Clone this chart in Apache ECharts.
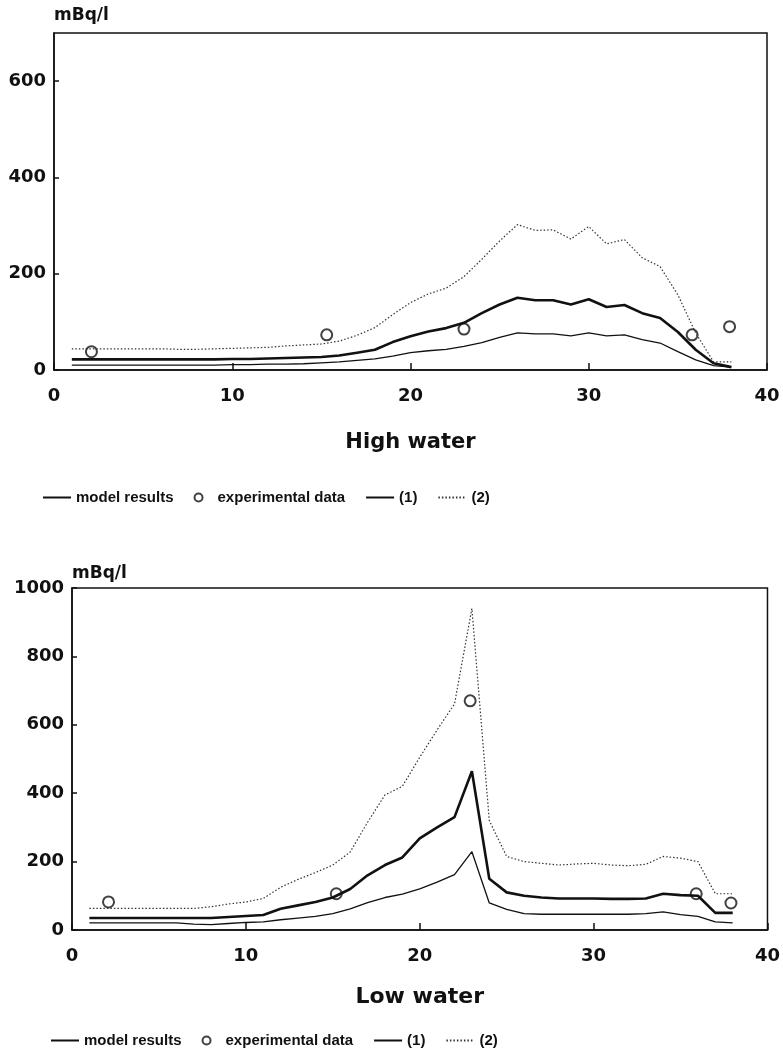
<!DOCTYPE html>
<html>
<head>
<meta charset="utf-8">
<script src="https://cdn.jsdelivr.net/npm/echarts@6/dist/echarts.min.js"></script>
<style>
html, body { margin: 0; background: #fff; }
#chart { width: 783px; height: 1059px; }
</style>
</head>
<body>
<div id="chart"></div>
<script>
var km = [1, 2, 3, 4, 5, 6, 7, 8, 9, 10, 11, 12, 13, 14, 15, 16, 17, 18, 19,
    20, 21, 22, 23, 24, 25, 26, 27, 28, 29, 30, 31, 32, 33, 34, 35, 36, 37, 38];

// High water
var hwModel = [22, 22, 22, 22, 22, 22, 22, 22, 22, 23, 23, 24, 25, 26, 27, 30, 36, 42, 58,
    70, 80, 87, 98, 118, 136, 150, 145, 145, 136, 147, 131, 135, 118, 108, 79, 42, 14, 6];
var hwLow = [10, 10, 10, 10, 10, 10, 10, 10, 10, 11, 11, 12, 12, 13, 15, 17, 20, 23, 29,
    36, 40, 43, 49, 57, 68, 77, 75, 75, 71, 77, 71, 73, 63, 56, 38, 21, 9, 6];
var hwHigh = [44, 44, 44, 44, 44, 44, 43, 43, 44, 45, 46, 47, 50, 52, 54, 60, 72, 88, 115,
    140, 158, 170, 194, 230, 268, 302, 290, 291, 272, 298, 262, 271, 233, 215, 156, 77, 17, 17];
var hwExpX = [2.1, 15.3, 23, 35.8, 37.9];
var hwExpY = [38, 73, 85, 73, 90];

// Low water
var lwModel = [35, 35, 35, 35, 35, 35, 35, 35, 38, 41, 44, 62, 72, 82, 95, 120, 160, 190, 212,
    268, 300, 330, 464, 150, 110, 100, 95, 92, 92, 92, 91, 91, 92, 106, 102, 100, 50, 50];
var lwLow = [21, 21, 21, 21, 21, 21, 17, 16, 19, 22, 24, 30, 35, 40, 48, 62, 80, 95, 105,
    120, 140, 162, 229, 79, 60, 48, 46, 46, 46, 46, 46, 46, 48, 53, 45, 40, 24, 21];
var lwHigh = [63, 63, 63, 63, 63, 63, 63, 68, 76, 82, 92, 125, 148, 168, 190, 228, 315, 395, 420,
    505, 585, 661, 940, 320, 215, 200, 195, 190, 193, 195, 190, 188, 192, 215, 210, 200, 106, 106];
var lwExpX = [2.1, 15.2, 22.9, 35.9, 37.9];
var lwExpY = [82, 106, 670, 106, 79];

var legendNames = ['model results', 'experimental data', '(1)', '(2)'];

function pairs(xs, ys) {
    return xs.map(function (x, i) { return [x, ys[i]]; });
}

var font = 'DejaVu Sans';
var legendFont = "'Liberation Sans', sans-serif";

function xAxisFor(idx, name, nameSize, gap) {
    return {
        type: 'value', gridIndex: idx, min: 0, max: 40, interval: 10,
        name: name, nameLocation: 'middle', nameGap: gap,
        nameTextStyle: { fontFamily: font, fontWeight: 'bold', fontSize: nameSize, color: '#111' },
        axisLine: { lineStyle: { color: '#111', width: 1.5 } },
        axisTick: { inside: true, length: 7, lineStyle: { color: '#111', width: 1.5 } },
        axisLabel: { margin: 17, fontFamily: font, fontWeight: 'bold', fontSize: 18, color: '#111' },
        splitLine: { show: false }
    };
}

function yAxisFor(idx, max, gap) {
    return {
        type: 'value', gridIndex: idx, min: 0, max: max, interval: 200,
        name: 'mBq/l', nameLocation: 'end', nameGap: gap,
        nameTextStyle: { fontFamily: font, fontWeight: 'bold', fontSize: 17, color: '#111', align: 'left' },
        axisLine: { lineStyle: { color: '#111', width: 1.5 } },
        axisTick: { inside: true, length: 5, lineStyle: { color: '#111', width: 1.5 } },
        axisLabel: {
            margin: 8, showMaxLabel: max === 1000,
            formatter: function (v) { return String(v); },
            fontFamily: font, fontWeight: 'bold', fontSize: 18, color: '#111'
        },
        splitLine: { show: false }
    };
}

function seriesFor(idx, model, low, high, expX, expY) {
    return [
        {
            name: 'model results', type: 'line', xAxisIndex: idx, yAxisIndex: idx,
            data: pairs(km, model), symbol: 'none',
            itemStyle: { color: '#111' },
            lineStyle: { color: '#111', width: 2.6 }
        },
        {
            name: 'experimental data', type: 'scatter', xAxisIndex: idx, yAxisIndex: idx,
            data: pairs(expX, expY), symbol: 'emptyCircle', symbolSize: 11,
            itemStyle: { color: '#111', borderColor: '#111', borderWidth: 1.5 }
        },
        {
            name: '(1)', type: 'line', xAxisIndex: idx, yAxisIndex: idx,
            data: pairs(km, low), symbol: 'none',
            itemStyle: { color: '#111' },
            lineStyle: { color: '#111', width: 1.3 }
        },
        {
            name: '(2)', type: 'line', xAxisIndex: idx, yAxisIndex: idx,
            data: pairs(km, high), symbol: 'none',
            itemStyle: { color: '#333' },
            lineStyle: { color: '#333', width: 1.2, type: [1.5, 2] }
        }
    ];
}

function legendFor(left, top) {
    return {
        left: left, top: top,
        data: legendNames.map(function (n) {
            return n === 'experimental data' ? { name: n } : { name: n, itemStyle: { opacity: 0 } };
        }),
        itemWidth: 28, itemHeight: 8, itemGap: 20, padding: 0,
        selectedMode: false,
        textStyle: { fontFamily: legendFont, fontWeight: 'bold', fontSize: 15, color: '#111' }
    };
}

var myChart = echarts.init(document.getElementById('chart'));
var option = {
    backgroundColor: '#fff',
    animation: false,
    legend: [legendFor(42, 490), legendFor(50, 1033)],
    grid: [
        { left: 54, top: 33, right: 16, height: 337, show: true, borderColor: '#111', borderWidth: 1.5 },
        { left: 72, top: 588, right: 13, height: 342, show: true, borderColor: '#111', borderWidth: 1.5 }
    ],
    xAxis: [xAxisFor(0, 'High water', 21, 62), xAxisFor(1, 'Low water', 22, 56)],
    yAxis: [yAxisFor(0, 700, 9), yAxisFor(1, 1000, 6)],
    series: seriesFor(0, hwModel, hwLow, hwHigh, hwExpX, hwExpY)
        .concat(seriesFor(1, lwModel, lwLow, lwHigh, lwExpX, lwExpY))
};
myChart.setOption(option);
</script>
</body>
</html>
